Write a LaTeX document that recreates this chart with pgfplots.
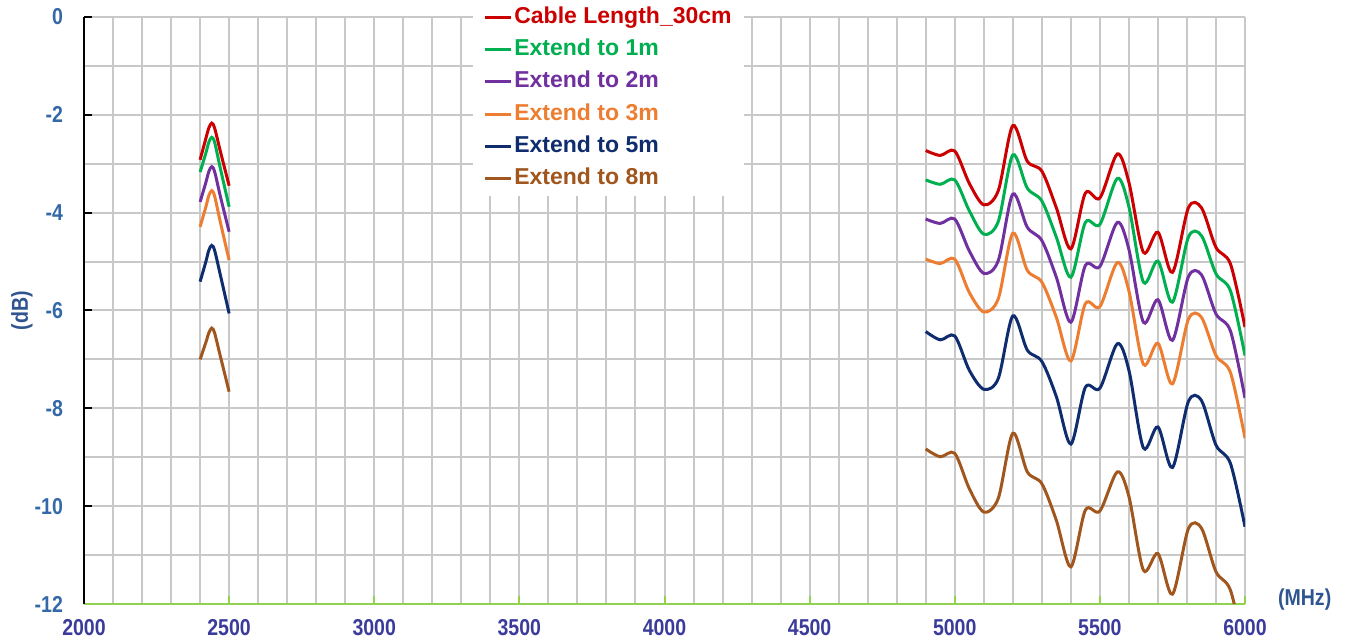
\documentclass[border=0pt]{standalone}
\usepackage{fontspec}
\setmainfont{Liberation Sans}
\newfontfamily\narrowfont{Liberation Sans}[FakeStretch=0.85]
\usepackage{pgfplots}
\usepackage{pgfplotstable}
\pgfplotsset{compat=1.18}

\definecolor{cRed}{HTML}{CC0000}
\definecolor{cGreen}{HTML}{00B050}
\definecolor{cPurple}{HTML}{7030A0}
\definecolor{cOrange}{HTML}{ED7D31}
\definecolor{cNavy}{HTML}{0F2D6E}
\definecolor{cBrown}{HTML}{A0561C}
\definecolor{cGrid}{HTML}{C8C8C8}
\definecolor{cAxisG}{HTML}{92D050}
\definecolor{cYlab}{HTML}{3468A8}
\definecolor{cXlab}{HTML}{3B3B9B}
\definecolor{cTitle}{HTML}{2F5590}

% 2.4 GHz band
\pgfplotstableread{
x red green purple orange navy brown
2400 -2.92 -3.17 -3.78 -4.29 -5.41 -7.00
2420 -2.48 -2.78 -3.38 -3.88 -5.00 -6.65
2430 -2.27 -2.56 -3.16 -3.65 -4.77 -6.46
2440 -2.17 -2.46 -3.06 -3.55 -4.67 -6.36
2450 -2.27 -2.56 -3.16 -3.66 -4.77 -6.46
2470 -2.75 -3.10 -3.67 -4.20 -5.28 -6.94
2500 -3.45 -3.88 -4.39 -4.97 -6.06 -7.66
}\bandA

% 5 GHz band
\pgfplotstableread{
x red green purple orange navy brown
4900 -2.73 -3.33 -4.13 -4.95 -6.43 -8.83
4950 -2.83 -3.42 -4.22 -5.04 -6.60 -8.99
5000 -2.74 -3.33 -4.13 -4.95 -6.52 -8.92
5050 -3.40 -3.96 -4.78 -5.63 -7.22 -9.64
5100 -3.84 -4.44 -5.24 -6.03 -7.61 -10.12
5150 -3.55 -4.18 -4.98 -5.76 -7.39 -9.84
5200 -2.22 -2.82 -3.62 -4.42 -6.11 -8.51
5250 -2.95 -3.50 -4.30 -5.18 -6.81 -9.30
5300 -3.15 -3.76 -4.57 -5.42 -7.04 -9.54
5350 -3.90 -4.50 -5.32 -6.14 -7.76 -10.29
5400 -4.74 -5.32 -6.24 -7.03 -8.73 -11.24
5450 -3.60 -4.20 -5.08 -5.86 -7.57 -10.08
5500 -3.70 -4.24 -5.10 -5.92 -7.59 -10.10
5560 -2.80 -3.30 -4.20 -5.02 -6.68 -9.30
5600 -3.38 -3.88 -4.75 -5.60 -7.22 -9.80
5650 -4.81 -5.42 -6.24 -7.10 -8.81 -11.31
5700 -4.40 -4.99 -5.78 -6.67 -8.38 -10.97
5750 -5.22 -5.83 -6.61 -7.50 -9.21 -11.80
5805 -3.90 -4.50 -5.31 -6.18 -7.86 -10.46
5850 -3.90 -4.47 -5.27 -6.14 -7.84 -10.45
5900 -4.71 -5.25 -6.07 -6.92 -8.75 -11.34
5950 -5.05 -5.60 -6.42 -7.27 -9.13 -11.72
6000 -6.34 -6.92 -7.79 -8.61 -10.42 -13.00
}\bandB

\begin{document}
\begin{tikzpicture}
\begin{axis}[
  scale only axis,
  width=580.5pt, height=293.5pt,
  xmin=2000, xmax=6000, ymin=-12, ymax=0,
  xtick={2000,2500,...,6000},
  ytick={-12,-10,...,0},
  minor x tick num=4,
  minor y tick num=1,
  grid=both,
  major grid style={cGrid, line width=1pt},
  minor grid style={cGrid, line width=1pt},
  axis x line*=bottom,
  axis y line*=left,
  x axis line style={cAxisG, line width=1pt, -},
  y axis line style={black, line width=1pt, -},
  tick align=inside,
  major tick length=4pt,
  minor tick length=0pt,
  x tick style={cAxisG, line width=1pt},
  y tick style={black, line width=1pt},
  xticklabel style={font=\narrowfont\bfseries\fontsize{11.5}{13}\selectfont, text=cXlab, yshift=-4pt},
  yticklabel style={font=\narrowfont\bfseries\fontsize{11.5}{13}\selectfont, text=cYlab, xshift=-7pt},
  /pgf/number format/assume math mode=true,
  scaled ticks=false,
  /pgf/number format/set thousands separator={},
  xlabel={(MHz)},
  xlabel style={at={(rel axis cs:1,0)}, anchor=west, xshift=13pt, yshift=2pt,
    font=\narrowfont\bfseries\fontsize{11.5}{13}\selectfont, text=cTitle},
  ylabel={(dB)},
  ylabel style={at={(rel axis cs:0,0.5)}, anchor=center, yshift=31pt,
    font=\narrowfont\bfseries\fontsize{11.5}{13}\selectfont, text=cTitle},
  every axis plot/.append style={line width=1.5pt, smooth, no markers},
  legend style={at={(rel axis cs:0.335,1)}, anchor=north west, yshift=8.5pt,
    draw=none, fill=white, inner xsep=5pt, inner ysep=0.5pt, row sep=0pt,
    font=\bfseries\fontsize{11.5}{13}\selectfont,
    nodes={text height=8.5pt, text depth=2.5pt, inner ysep=2.55pt, inner xsep=1pt},
    cells={anchor=west}},
  legend image code/.code={\draw[#1, sharp plot] (0pt,0pt) -- (13pt,0pt);},
]
\addplot[cRed, forget plot] table[x=x, y=red] {\bandA};
\addplot[cGreen, forget plot] table[x=x, y=green] {\bandA};
\addplot[cPurple, forget plot] table[x=x, y=purple] {\bandA};
\addplot[cOrange, forget plot] table[x=x, y=orange] {\bandA};
\addplot[cNavy, forget plot] table[x=x, y=navy] {\bandA};
\addplot[cBrown, forget plot] table[x=x, y=brown] {\bandA};

\addplot[cRed] table[x=x, y=red] {\bandB};
\addlegendentry{\textcolor{cRed}{Cable Length\_30cm}}
\addplot[cGreen] table[x=x, y=green] {\bandB};
\addlegendentry{\textcolor{cGreen}{Extend to 1m}}
\addplot[cPurple] table[x=x, y=purple] {\bandB};
\addlegendentry{\textcolor{cPurple}{Extend to 2m}}
\addplot[cOrange] table[x=x, y=orange] {\bandB};
\addlegendentry{\textcolor{cOrange}{Extend to 3m}}
\addplot[cNavy] table[x=x, y=navy] {\bandB};
\addlegendentry{\textcolor{cNavy}{Extend to 5m}}
\addplot[cBrown] table[x=x, y=brown] {\bandB};
\addlegendentry{\textcolor{cBrown}{Extend to 8m}}
\end{axis}
\pgfresetboundingbox
\path ([shift={(-42pt,-19.5pt)}]current axis.south west) rectangle ([shift={(53pt,8.5pt)}]current axis.north east);
\end{tikzpicture}
\end{document}
